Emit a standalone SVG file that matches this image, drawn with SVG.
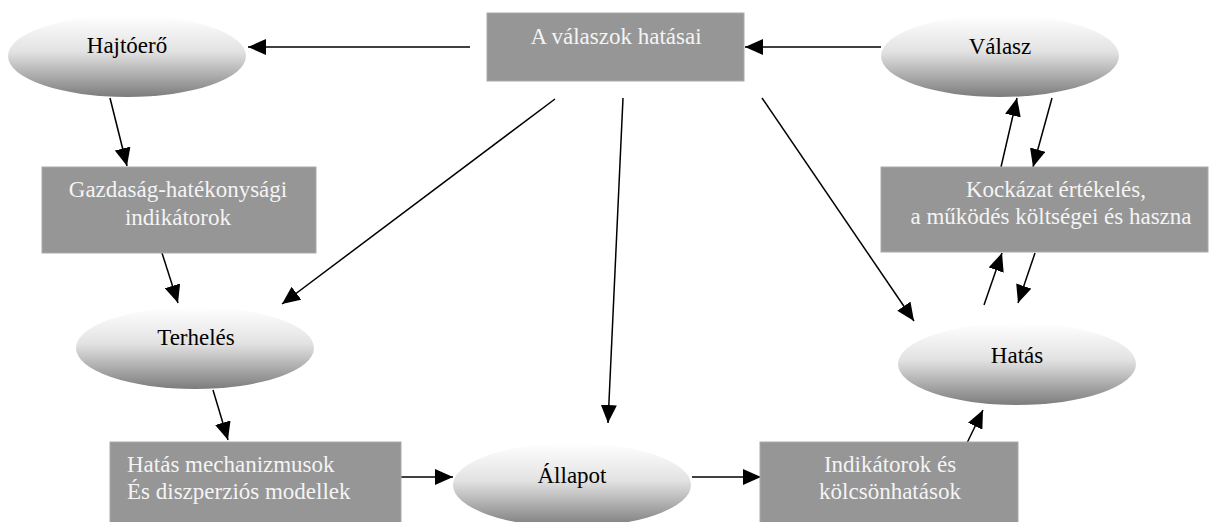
<svg xmlns="http://www.w3.org/2000/svg" width="1210" height="522" viewBox="0 0 1210 522">
  <style>
    .box { fill: #969696; stroke: #aaaaaa; stroke-width: 1; }
    .oval { fill: url(#ovalShade); }
    .lbl { font-family: "Liberation Serif", "Times New Roman", serif; font-size: 23px; }
    .dark { fill: #000000; text-anchor: middle; }
    .light { fill: #f4f4f4; text-anchor: middle; }
    .light-left { fill: #f4f4f4; text-anchor: start; }
    .edge { stroke: #000000; stroke-width: 1.5; fill: none; marker-end: url(#head); }
  </style>
  <defs>
    <linearGradient id="ovalShade" x1="0" y1="0" x2="0" y2="1">
      <stop offset="0" stop-color="#ffffff"/>
      <stop offset="0.45" stop-color="#e2e2e2"/>
      <stop offset="1" stop-color="#7c7c7c"/>
    </linearGradient>
    <marker id="head" markerUnits="userSpaceOnUse" markerWidth="18" markerHeight="16" refX="18" refY="8" orient="auto">
      <path d="M0,0 L18,8 L0,16 Z" fill="#000000"/>
    </marker>
  </defs>

  <rect width="1210" height="522" fill="#ffffff"/>

  <!-- connectors -->
  <g id="connectors">
    <line class="edge" x1="470" y1="47" x2="248" y2="47"/>
    <line class="edge" x1="881" y1="47" x2="745" y2="47"/>
    <line class="edge" x1="110" y1="98" x2="127" y2="166"/>
    <line class="edge" x1="162" y1="253" x2="178" y2="303"/>
    <line class="edge" x1="555" y1="99" x2="282" y2="304"/>
    <line class="edge" x1="623" y1="98" x2="608" y2="423"/>
    <line class="edge" x1="762" y1="98" x2="914" y2="321"/>
    <line class="edge" x1="213" y1="390" x2="228" y2="440"/>
    <line class="edge" x1="401" y1="477" x2="453" y2="477"/>
    <line class="edge" x1="692" y1="477" x2="761" y2="477"/>
    <line class="edge" x1="967" y1="443" x2="983" y2="410"/>
    <line class="edge" x1="984" y1="305" x2="1002" y2="253"/>
    <line class="edge" x1="1035" y1="253" x2="1018" y2="303"/>
    <line class="edge" x1="1001" y1="167" x2="1017" y2="98"/>
    <line class="edge" x1="1052" y1="98" x2="1033" y2="167"/>
  </g>

  <!-- nodes -->
  <g id="hajtoero">
    <ellipse class="oval" cx="127" cy="56" rx="119" ry="41"/>
    <text class="lbl dark" x="127" y="53">Hajtóerő</text>
  </g>
  <g id="valaszok-hatasai">
    <rect class="box" x="487" y="13" width="257" height="68"/>
    <text class="lbl light" x="616" y="44">A válaszok hatásai</text>
  </g>
  <g id="valasz">
    <ellipse class="oval" cx="1000" cy="56" rx="119" ry="41"/>
    <text class="lbl dark" x="1000" y="54">Válasz</text>
  </g>
  <g id="gazdasag">
    <rect class="box" x="42" y="167" width="274" height="86"/>
    <text class="lbl light" x="178" y="197">Gazdaság-hatékonysági</text>
    <text class="lbl light" x="178" y="225">indikátorok</text>
  </g>
  <g id="kockazat">
    <rect class="box" x="881" y="167" width="327" height="85"/>
    <text class="lbl light" x="1056" y="197">Kockázat értékelés,</text>
    <text class="lbl light" x="1051" y="224">a működés költségei és haszna</text>
  </g>
  <g id="terheles">
    <ellipse class="oval" cx="195" cy="348" rx="119" ry="41"/>
    <text class="lbl dark" x="196" y="345">Terhelés</text>
  </g>
  <g id="hatas">
    <ellipse class="oval" cx="1017" cy="364" rx="119" ry="41"/>
    <text class="lbl dark" x="1017" y="363">Hatás</text>
  </g>
  <g id="mechanizmusok">
    <rect class="box" x="110" y="442" width="291" height="82"/>
    <text class="lbl light-left" x="127" y="472">Hatás mechanizmusok</text>
    <text class="lbl light-left" x="127" y="499">És diszperziós modellek</text>
  </g>
  <g id="allapot">
    <ellipse class="oval" cx="572" cy="485" rx="119" ry="42"/>
    <text class="lbl dark" x="572" y="483">Állapot</text>
  </g>
  <g id="indikatorok">
    <rect class="box" x="760" y="442" width="258" height="82"/>
    <text class="lbl light" x="890" y="472">Indikátorok és</text>
    <text class="lbl light" x="890" y="499">kölcsönhatások</text>
  </g>
</svg>
